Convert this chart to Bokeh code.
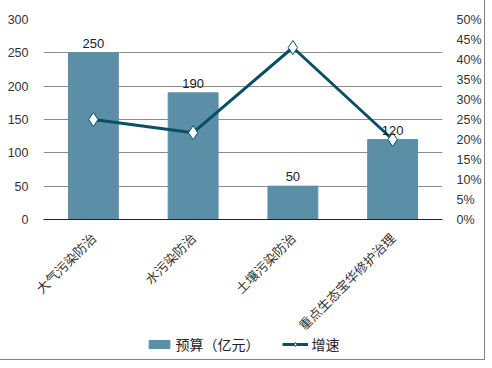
from bokeh.plotting import figure
from bokeh.layouts import column
from bokeh.models import (ColumnDataSource, FactorRange, Range1d, LinearAxis,
                          NumeralTickFormatter, Legend, LegendItem, FixedTicker, LabelSet)
from bokeh.core.properties import value
from bokeh.embed import file_html
from bokeh.resources import INLINE
from math import pi

categories = ["大气污染防治", "水污染防治", "土壤污染防治", "重点生态宝华修护治理"]
budget = [250, 190, 50, 120]
growth = [0.25, 0.217, 0.43, 0.20]
left_ticks = [0, 50, 100, 150, 200, 250, 300]
right_ticks = [0, 0.05, 0.10, 0.15, 0.20, 0.25, 0.30, 0.35, 0.40, 0.45, 0.50]

BAR = "#5b8fa8"
LINE = "#0b4f64"

src = ColumnDataSource(dict(cat=categories, budget=budget, growth=growth,
                            lbl=[str(b) for b in budget]))

p = figure(frame_width=399, frame_height=200,
           x_range=FactorRange(*categories, range_padding=0),
           y_range=Range1d(0, 300), output_backend="svg", toolbar_location=None,
           min_border_left=43, min_border_right=42, min_border_top=19, min_border_bottom=0)
p.outline_line_color = None
p.extra_y_ranges = {"pct": Range1d(0, 0.5)}

p.vbar(x="cat", top="budget", width=0.5, source=src, color=BAR)
p.line(x="cat", y="growth", source=src, y_range_name="pct", line_color=LINE, line_width=3)
p.scatter(x="cat", y="growth", source=src, y_range_name="pct", marker="diamond",
          size=14, fill_color="white", line_color=LINE, line_width=1)

labels = LabelSet(x="cat", y="budget", text="lbl", source=src, text_align="center",
                  text_baseline="bottom", y_offset=5, text_font_size=value("13px"),
                  text_font=value("Liberation Sans"), text_color=value("#222222"))
p.add_layout(labels)

la = p.yaxis[0]
la.ticker = FixedTicker(ticks=left_ticks)
la.axis_line_color = None
la.major_tick_line_color = None
la.minor_tick_line_color = None
la.major_label_text_font = "Liberation Sans"
la.major_label_text_font_size = "12.5px"
la.major_label_text_color = "#333333"
la.major_label_standoff = 9

ra = LinearAxis(y_range_name="pct", ticker=FixedTicker(ticks=right_ticks),
                formatter=NumeralTickFormatter(format="0%"))
ra.axis_line_color = None
ra.major_tick_line_color = None
ra.minor_tick_line_color = None
ra.major_label_text_font = "Liberation Sans"
ra.major_label_text_font_size = "12.5px"
ra.major_label_text_color = "#333333"
ra.major_label_standoff = 8
p.add_layout(ra, "right")

xa = p.xaxis[0]
xa.axis_line_color = "#222222"
xa.axis_line_width = 1
xa.major_tick_line_color = None
xa.major_label_orientation = pi / 4
xa.major_label_text_font = "Noto Sans CJK SC"
xa.major_label_text_font_size = "13px"
xa.major_label_text_color = "#333333"
xa.major_label_standoff = 10

p.xgrid.grid_line_color = None
p.ygrid.ticker = FixedTicker(ticks=left_ticks)
p.ygrid.grid_line_color = "#8c8c8c"
p.ygrid.grid_line_width = 1

# legend strip below the chart
q = figure(width=484, height=30, x_range=FactorRange(*categories),
           y_range=Range1d(1000, 1001), output_backend="svg", toolbar_location=None,
           min_border=0)
q.margin = (-14, 0, 0, 0)
q.axis.visible = False
q.grid.grid_line_color = None
q.outline_line_color = None
lb = q.vbar(x="cat", top="budget", width=0.5, source=src, color=BAR)
ll = q.line(x="cat", y="growth", source=src, line_color=LINE, line_width=3)
lp = q.scatter(x="cat", y="growth", source=src, marker="diamond", size=10,
               fill_color="white", line_color=LINE, line_width=1)
legend = Legend(items=[LegendItem(label="预算（亿元）", renderers=[lb]),
                       LegendItem(label="增速", renderers=[ll, lp])],
                orientation="horizontal", location="center",
                label_text_font="Noto Sans CJK SC", label_text_font_size="14px",
                label_text_color="#222222", border_line_color=None,
                background_fill_alpha=0, spacing=22, glyph_width=26, glyph_height=10,
                margin=0, padding=2, label_standoff=4)
q.add_layout(legend)

layout = column(p, q, spacing=0)
layout.styles = {"outline": "1px solid #808080"}
open("out.html", "w").write(file_html(layout, INLINE))
